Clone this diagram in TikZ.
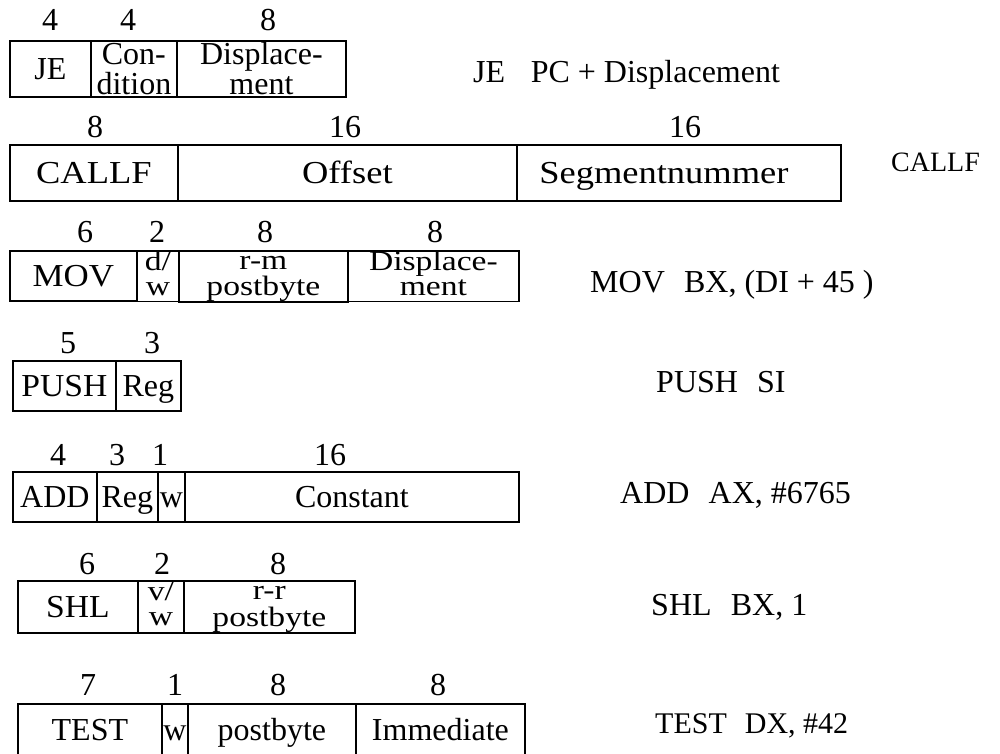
\documentclass[tikz,border=0pt]{standalone}
\usepackage{fontspec}
\setmainfont{Liberation Serif}
% widened faces for the rows that are set wider than normal
\newfontfamily\wideA[FakeStretch=1.14]{Liberation Serif}
\newfontfamily\wideB[FakeStretch=1.09]{Liberation Serif}
\newfontfamily\wideC[FakeStretch=1.05]{Liberation Serif}
\newfontfamily\rowC[FakeStretch=1.2]{Liberation Serif}
\newcommand{\fldfont}{\fontsize{32}{30}\selectfont}
\newcommand{\pairfont}{\rowC\fontsize{28}{24}\selectfont}
\newcommand{\lnstrut}{\vphantom{Dp}}
\begin{document}
\begin{tikzpicture}[x=1pt,y=-1pt,
  fld/.style={draw, line width=1.8pt, inner sep=0pt, anchor=north west,
              align=center, font=\fldfont},
  one/.style={text height=21pt, text depth=0pt},
  two/.style={font=\fldfont},
  pair/.style={font=\pairfont},
  bits/.style={inner sep=0pt, font=\fldfont},
  instr/.style={inner sep=0pt, anchor=west, font=\fldfont}]
\useasboundingbox (0,0) rectangle (1000,753);

% JE: 4 | 4 | 8
\node[fld, one, minimum width=81pt,  minimum height=56pt] (je-op)   at (9,40)   {JE};
\node[fld, two, minimum width=86pt,  minimum height=56pt] (je-cond) at (90,40)  {Con-\\dition};
\node[fld, two, minimum width=169pt, minimum height=56pt] (je-disp) at (176,40) {Displace-\\ment};
\node[bits] (je-b1) at (50,20)  {4};
\node[bits] (je-b2) at (128,20) {4};
\node[bits] (je-b3) at (268,20) {8};
\node[instr] (je-txt) at (473,75) {JE\hspace{0.8em}PC + Displacement};

% CALLF: 8 | 16 | 16
\node[fld, one, font=\wideA\fldfont, minimum width=168pt, minimum height=56pt] (cf-op)  at (9,144)   {CALLF};
\node[fld, one, font=\wideA\fldfont, minimum width=339pt, minimum height=56pt] (cf-off) at (177,144) {Offset};
\node[fld, one, font=\wideA\fldfont, minimum width=324pt, minimum height=56pt] (cf-seg) at (516,144) {Segmentnummer\hspace*{30pt}};
\node[bits] (cf-b1) at (95,127)  {8};
\node[bits] (cf-b2) at (345,127) {16};
\node[bits] (cf-b3) at (685,127) {16};
\node[instr, font=\fontsize{28}{30}\selectfont] (cf-txt) at (891,162) {CALLF};

% MOV: 6 | 2 | 8 | 8
\node[fld, one, font=\wideB\fldfont, minimum width=127pt, minimum height=50pt] (mv-op) at (9,250) {MOV};
\node[fld, pair, minimum width=42pt,  minimum height=50pt] (mv-dw)   at (136,250) {\lnstrut d/\\\lnstrut w};
\node[fld, pair, minimum width=169pt, minimum height=50pt] (mv-rm)   at (178,250) {\lnstrut r-m\\\lnstrut postbyte};
\node[fld, pair, minimum width=171pt, minimum height=50pt] (mv-disp) at (347,250) {\lnstrut Displace-\\\lnstrut ment};
\node[bits] (mv-b1) at (85,232)  {6};
\node[bits] (mv-b2) at (157,232) {2};
\node[bits] (mv-b3) at (265,232) {8};
\node[bits] (mv-b4) at (435,232) {8};
\node[instr] (mv-txt) at (590,285) {MOV\hspace{0.6em}BX, (DI + 45 )};

% PUSH: 5 | 3
\node[fld, one, font=\wideC\fldfont, minimum width=103pt, minimum height=50pt] (ps-op)  at (12,360)  {PUSH};
\node[fld, one, minimum width=65pt,  minimum height=50pt] (ps-reg) at (115,360) {Reg};
\node[bits] (ps-b1) at (68,343)  {5};
\node[bits] (ps-b2) at (152,343) {3};
\node[instr] (ps-txt) at (656,382) {PUSH\hspace{0.6em}SI};

% ADD: 4 | 3 | 1 | 16
\node[fld, one, minimum width=84pt,  minimum height=50pt] (ad-op)  at (12,471)  {ADD};
\node[fld, one, minimum width=61pt,  minimum height=50pt] (ad-reg) at (96,471)  {Reg};
\node[fld, one, minimum width=27pt,  minimum height=50pt] (ad-w)   at (157,471) {w};
\node[fld, one, minimum width=334pt, minimum height=50pt] (ad-con) at (184,471) {Constant};
\node[bits] (ad-b1) at (58,455)  {4};
\node[bits] (ad-b2) at (117,455) {3};
\node[bits] (ad-b3) at (160,455) {1};
\node[bits] (ad-b4) at (330,455) {16};
\node[instr] (ad-txt) at (620,495) {ADD\hspace{0.6em}AX, \#6765};

% SHL: 6 | 2 | 8
\node[fld, one, font=\wideC\fldfont, minimum width=120pt, minimum height=52pt] (sh-op) at (17,580)  {SHL};
\node[fld, pair, minimum width=46pt,  minimum height=52pt] (sh-vw) at (137,580) {\lnstrut v/\\\lnstrut w};
\node[fld, pair, minimum width=171pt, minimum height=52pt] (sh-rr) at (183,580) {\lnstrut r-r\\\lnstrut postbyte};
\node[bits] (sh-b1) at (87,564)  {6};
\node[bits] (sh-b2) at (162,564) {2};
\node[bits] (sh-b3) at (278,564) {8};
\node[instr] (sh-txt) at (651,607) {SHL\hspace{0.6em}BX, 1};

% TEST: 7 | 1 | 8 | 8  (lower edge runs past the foot of the sheet)
\node[fld, one, minimum width=144pt, minimum height=52pt] (ts-op)  at (17,703)  {TEST};
\node[fld, one, minimum width=26pt,  minimum height=52pt] (ts-w)   at (161,703) {w};
\node[fld, one, minimum width=168pt, minimum height=52pt] (ts-pb)  at (187,703) {postbyte};
\node[fld, one, minimum width=169pt, minimum height=52pt] (ts-imm) at (355,703) {Immediate};
\node[bits] (ts-b1) at (88,685)  {7};
\node[bits] (ts-b2) at (175,685) {1};
\node[bits] (ts-b3) at (278,685) {8};
\node[bits] (ts-b4) at (438,685) {8};
\node[instr, font=\fontsize{30}{30}\selectfont] (ts-txt) at (655,726) {TEST\hspace{0.6em}DX, \#42};
\end{tikzpicture}
\end{document}
